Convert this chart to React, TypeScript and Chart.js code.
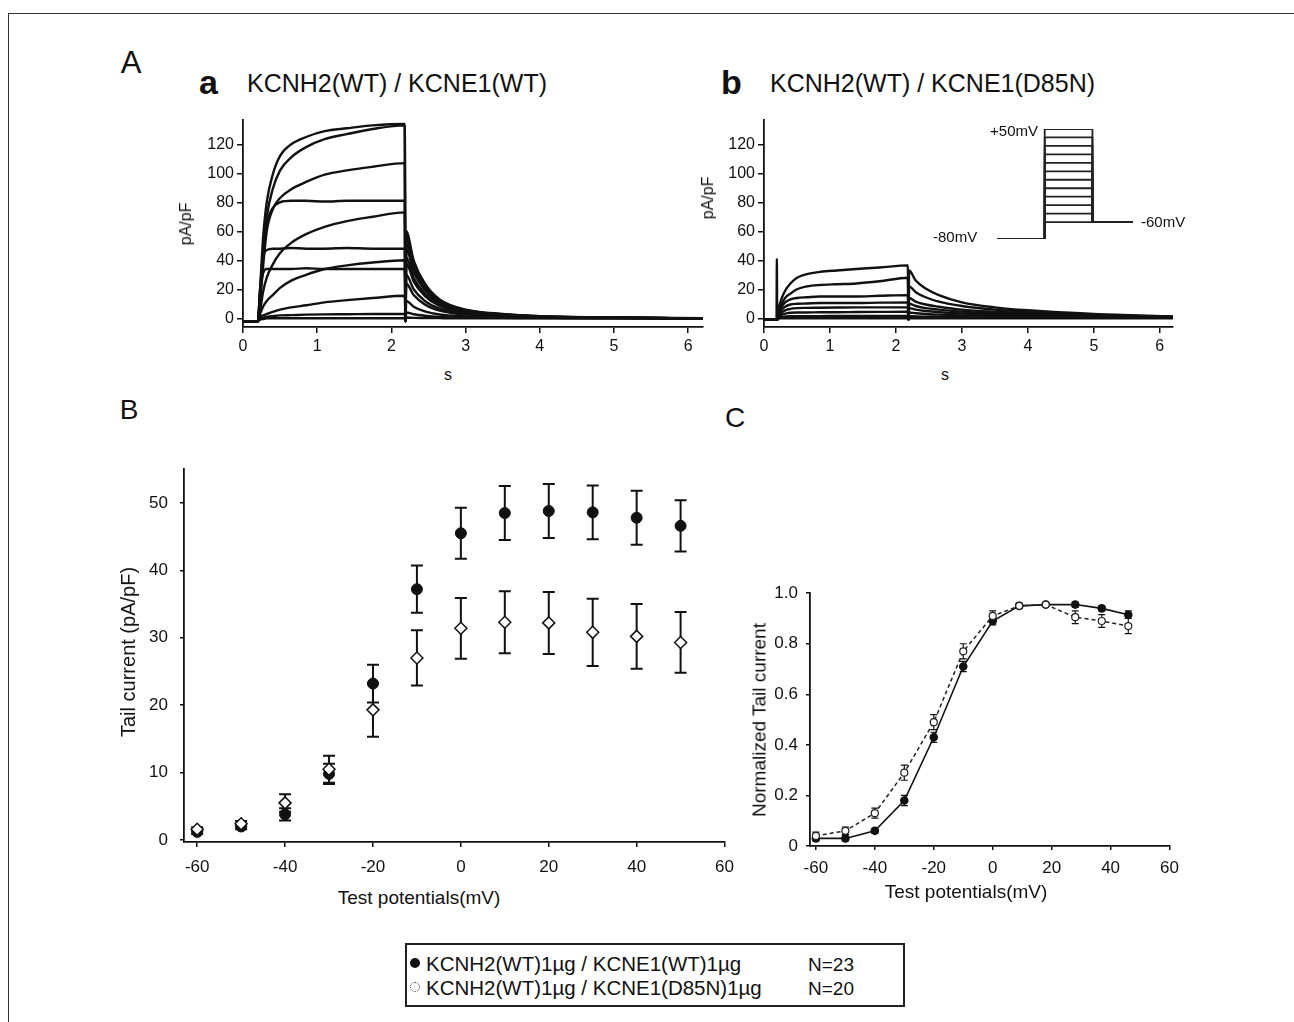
import React, { useEffect, useRef } from "react";
import { Chart, registerables } from "chart.js";
Chart.register(...registerables);

const FONT = '"Liberation Sans", Arial, Helvetica, sans-serif';
const INK = "#111";

// ---------- Panel A: current traces (pA/pF vs s) ----------
const traceTimes = [0, 0.19, 0.195, 0.2, 0.23, 0.27, 0.32, 0.4, 0.5, 0.65, 0.85, 1.1, 1.4, 1.75, 2.18, 2.19, 2.2, 2.3, 2.45, 2.65, 3.0, 3.5, 4.0, 5.0, 6.2];

// a: KCNH2(WT) / KCNE1(WT)
const wtTrace1 = [-2, -2, -2, -2, 20, 55, 80, 99, 112, 120, 125, 129, 131, 133, 134, -2, 60, 40, 24, 13, 6, 3, 1.5, 0.6, 0];
const wtTrace2 = [-2, -2, -2, -2, 15, 45, 70, 89, 102, 111, 118, 123.5, 127, 130.5, 133, -2, 56, 38, 23, 12.5, 5.8, 2.8, 1.4, 0.5, 0];
const wtTrace3 = [-2, -2, -2, -2, 10, 35, 60, 75, 83, 89, 94, 99, 102, 104.5, 107, -2, 52, 35, 21, 11.5, 5.5, 2.6, 1.3, 0.5, 0];
const wtTrace4 = [-2, -2, -2, -2, 15, 45, 65, 76, 80, 81, 81, 80.5, 81, 81, 81, -2, 48, 32, 19.5, 10.5, 5, 2.5, 1.2, 0.4, 0];
const wtTrace5 = [-2, -2, -2, -2, 5, 18, 28, 37, 45, 52, 58, 63, 67, 70, 73, -2, 42, 28, 17, 9.5, 4.5, 2.2, 1.1, 0.4, 0];
const wtTrace6 = [-2, -2, -2, -2, 20, 42, 47, 48, 48, 48.5, 48, 48, 48.5, 48, 48, -2, 38, 25.5, 15.5, 8.5, 4, 2, 1, 0.4, 0];
const wtTrace7 = [-2, -2, -2, -2, 3, 8, 12, 16, 21, 26, 30, 34, 36.5, 38.5, 40, -2, 30, 20, 12, 6.6, 3.2, 1.6, 0.8, 0.3, 0];
const wtTrace8 = [-2, -2, -2, -2, 18, 31, 34, 34, 34, 34, 34.5, 34, 34, 34, 34, -2, 24, 16, 9.6, 5.3, 2.5, 1.3, 0.6, 0.2, 0];
const wtTrace9 = [-2, -2, -2, -2, 1, 2, 3, 4.5, 6, 7.5, 9, 11, 12.5, 14, 15.5, -2, 12, 8, 4.8, 2.6, 1.3, 0.7, 0.3, 0.1, 0];
const wtTrace10 = [-2, -2, -2, -2, 0, 0.5, 1, 1.5, 2, 2.2, 2.5, 2.7, 2.8, 3, 3, -2, 4, 2.8, 1.8, 1, 0.5, 0.3, 0.1, 0, 0];
const wtTrace11 = [-2, -2, -2, -2, -1, -0.5, 0, 0, 0, 0, 0, 0, 0, 0, 0, -2, 0.5, 0.3, 0.2, 0.1, 0, 0, 0, 0, 0];

// b: KCNH2(WT) / KCNE1(D85N)
const mutTrace1 = [-1, -1, 41, 0, 8, 14, 19, 24, 28, 30.5, 32, 33, 34, 35, 36.5, -1, 33, 26, 20.5, 16, 11, 7.5, 5.5, 3, 1.3];
const mutTrace2 = [-1, -1, -1, -1, 5, 10, 14, 17, 20, 22, 23, 23.5, 24, 25.5, 28, -1, 22, 18, 14.5, 11.5, 8.5, 6, 4.5, 2.5, 1.1];
const mutTrace3 = [-1, -1, -1, -1, 4, 8, 11, 13, 14, 14.5, 15, 15, 15, 15.5, 16, -1, 14, 11.5, 9.5, 8, 6, 4.5, 3.5, 2, 0.9];
const mutTrace4 = [-1, -1, -1, -1, 3, 6, 8, 9.5, 10, 10.2, 10.5, 10.5, 10.5, 10.8, 11, -1, 10, 8.5, 7, 6, 4.6, 3.5, 2.7, 1.6, 0.7];
const mutTrace5 = [-1, -1, -1, -1, 2, 4, 5.5, 6.5, 7, 7.2, 7.3, 7.4, 7.5, 7.5, 7.5, -1, 7, 6, 5, 4.2, 3.3, 2.5, 2, 1.2, 0.5];
const mutTrace6 = [-1, -1, -1, -1, 1, 2.5, 3.2, 3.8, 4, 4, 4.2, 4.2, 4.3, 4.4, 4.5, -1, 4, 3.5, 3, 2.5, 2, 1.6, 1.2, 0.8, 0.4];
const mutTrace7 = [-1, -1, -1, -1, 0.5, 1, 1.2, 1.4, 1.5, 1.5, 1.5, 1.6, 1.6, 1.6, 1.7, -1, 1.5, 1.3, 1.1, 1, 0.8, 0.6, 0.5, 0.4, 0.3];
const mutTrace8 = [-1, -1, -1, -1, 0, 0, 0, 0, 0, 0, 0, 0, 0, 0, 0, -1, 0, 0, 0, 0, 0, 0, 0, 0, 0];

const aXTicks = [0, 1, 2, 3, 4, 5, 6];
const aYTicks = [0, 20, 40, 60, 80, 100, 120];

// Voltage protocol inset
const protocolSteps = [50, 40, 30, 20, 10, 0, -10, -20, -30, -40, -50, -60];
const holdingPotential = -80;
const tailPotential = -60;
const protocolTimes = [0, 1, 2, 2.85];

// ---------- Panel B: tail current vs test potential ----------
const testPotentials = [-60, -50, -40, -30, -20, -10, 0, 10, 20, 30, 40, 50];
const wtTail = [1.2, 2.0, 3.8, 9.8, 23.2, 37.2, 45.5, 48.5, 48.8, 48.6, 47.8, 46.6];
const wtTailSem = [0.3, 0.4, 0.9, 1.5, 2.8, 3.5, 3.8, 4.0, 4.0, 4.0, 4.0, 3.8];
const mutTail = [1.6, 2.4, 5.5, 10.5, 19.3, 27.0, 31.4, 32.3, 32.2, 30.8, 30.2, 29.3];
const mutTailSem = [0.3, 0.4, 1.3, 2.0, 4.0, 4.1, 4.5, 4.6, 4.6, 5.0, 4.8, 4.5];
const bXTicks = [-60, -40, -20, 0, 20, 40, 60];
const bYTicks = [0, 10, 20, 30, 40, 50];

// ---------- Panel C: normalized tail current ----------
const normPotentials = [-60, -50, -40, -30, -20, -10, 0, 9, 18, 28, 37, 46];
const wtNorm = [0.03, 0.03, 0.06, 0.18, 0.43, 0.71, 0.89, 0.95, 0.955, 0.955, 0.94, 0.915];
const wtNormSem = [0.01, 0.01, 0.01, 0.02, 0.02, 0.02, 0.015, 0.01, 0.005, 0.01, 0.01, 0.015];
const mutNorm = [0.04, 0.06, 0.13, 0.29, 0.49, 0.77, 0.91, 0.95, 0.955, 0.905, 0.89, 0.87];
const mutNormSem = [0.015, 0.015, 0.02, 0.03, 0.03, 0.03, 0.02, 0.01, 0.005, 0.025, 0.025, 0.03];
const cXTicks = [-60, -40, -20, 0, 20, 40, 60];
const cYTicks = [0, 0.2, 0.4, 0.6, 0.8, 1.0];

// ---------- helpers ----------
const errorBarPlugin = {
  id: "errorBars",
  beforeDatasetsDraw(chart: any) {
    const { ctx } = chart;
    const xs = chart.scales.x;
    const ys = chart.scales.y;
    chart.data.datasets.forEach((ds: any) => {
      if (!ds.errors) return;
      ctx.save();
      ctx.strokeStyle = INK;
      ctx.lineWidth = ds.errorWidth || 1.5;
      ds.data.forEach((p: any, j: number) => {
        const e = ds.errors[j];
        if (!e) return;
        const px = xs.getPixelForValue(p.x);
        const top = ys.getPixelForValue(p.y + e);
        const bot = ys.getPixelForValue(p.y - e);
        const c = ds.capWidth || 4;
        ctx.beginPath();
        ctx.moveTo(px, top);
        ctx.lineTo(px, bot);
        ctx.moveTo(px - c, top);
        ctx.lineTo(px + c, top);
        ctx.moveTo(px - c, bot);
        ctx.lineTo(px + c, bot);
        ctx.stroke();
      });
      ctx.restore();
    });
  },
};

function linAxis(o: any) {
  return {
    type: "linear",
    min: o.min,
    max: o.max,
    offset: false,
    afterBuildTicks: (s: any) => {
      s.ticks = o.ticks.map((v: number) => ({ value: v }));
    },
    afterFit: (s: any) => {
      if (s.isHorizontal()) s.height = o.size;
      else s.width = o.size;
    },
    grid: { display: true, drawOnChartArea: false, drawTicks: true, tickLength: o.tickLength, color: INK, lineWidth: 1.5 },
    border: { display: true, color: INK, width: 1.8 },
    ticks: {
      color: INK,
      font: { family: FONT, size: o.fontSize },
      padding: o.padding,
      autoSkip: false,
      maxRotation: 0,
      callback: o.fmt || ((v: number) => String(v)),
    },
  };
}

const baseOptions = {
  animation: false,
  responsive: false,
  events: [],
  layout: { padding: { top: 10, right: 14, left: 0, bottom: 0 } },
  plugins: { legend: { display: false }, tooltip: { enabled: false } },
};

function traceDatasets(traces: number[][]) {
  return traces.map((tr) => ({
    data: traceTimes.map((t, i) => ({ x: t, y: tr[i] })),
    borderColor: INK,
    borderWidth: 2.4,
    pointRadius: 0,
    cubicInterpolationMode: "monotone",
    fill: false,
  }));
}

function makeTraceConfig(traces: number[][]) {
  return {
    type: "line",
    data: { datasets: traceDatasets(traces) },
    options: {
      ...baseOptions,
      scales: {
        x: linAxis({ min: 0, max: 6.2, ticks: aXTicks, size: 35, fontSize: 16, tickLength: 6, padding: 4 }),
        y: linAxis({ min: -6, max: 137, ticks: aYTicks, size: 60, fontSize: 16, tickLength: 6, padding: 3 }),
      },
    },
  };
}

function makeProtocolConfig() {
  return {
    type: "line",
    data: {
      datasets: protocolSteps.map((v) => ({
        data: [
          { x: protocolTimes[0], y: holdingPotential },
          { x: protocolTimes[1], y: holdingPotential },
          { x: protocolTimes[1], y: v },
          { x: protocolTimes[2], y: v },
          { x: protocolTimes[2], y: tailPotential },
          { x: protocolTimes[3], y: tailPotential },
        ],
        borderColor: "#222",
        borderWidth: 1.8,
        pointRadius: 0,
        tension: 0,
      })),
    },
    options: {
      ...baseOptions,
      layout: { padding: 2 },
      scales: {
        x: { type: "linear", display: false, min: protocolTimes[0], max: protocolTimes[3] },
        y: { type: "linear", display: false, min: holdingPotential, max: protocolSteps[0] },
      },
    },
  };
}

function pts(xs: number[], ys: number[]) {
  return xs.map((x, i) => ({ x, y: ys[i] }));
}

function makeTailConfig() {
  return {
    type: "scatter",
    data: {
      datasets: [
        {
          data: pts(testPotentials, mutTail),
          errors: mutTailSem,
          capWidth: 6,
          errorWidth: 2,
          pointStyle: "rectRot",
          pointRadius: 6,
          backgroundColor: "#fff",
          borderColor: INK,
          borderWidth: 1.5,
        },
        {
          data: pts(testPotentials, wtTail),
          errors: wtTailSem,
          capWidth: 6,
          errorWidth: 2,
          pointStyle: "circle",
          pointRadius: 5.5,
          backgroundColor: INK,
          borderColor: INK,
          borderWidth: 1,
        },
      ],
    },
    options: {
      ...baseOptions,
      scales: {
        x: linAxis({ min: -63, max: 60, ticks: bXTicks, size: 40, fontSize: 17, tickLength: 5, padding: 10 }),
        y: linAxis({ min: -0.3, max: 55, ticks: bYTicks, size: 60, fontSize: 17, tickLength: 4, padding: 12 }),
      },
    },
    plugins: [errorBarPlugin],
  };
}

function makeNormConfig() {
  return {
    type: "line",
    data: {
      datasets: [
        {
          data: pts(normPotentials, mutNorm),
          errors: mutNormSem,
          capWidth: 3.5,
          errorWidth: 1.2,
          borderColor: "#222",
          borderWidth: 1.5,
          borderDash: [4, 3],
          pointStyle: "circle",
          pointRadius: 3.5,
          pointBackgroundColor: "#fff",
          pointBorderColor: "#222",
          pointBorderWidth: 1.2,
          tension: 0,
        },
        {
          data: pts(normPotentials, wtNorm),
          errors: wtNormSem,
          capWidth: 3.5,
          errorWidth: 1.2,
          borderColor: INK,
          borderWidth: 1.6,
          pointStyle: "circle",
          pointRadius: 3.5,
          pointBackgroundColor: INK,
          pointBorderColor: INK,
          tension: 0,
        },
      ],
    },
    options: {
      ...baseOptions,
      scales: {
        x: linAxis({ min: -62, max: 60, ticks: cXTicks, size: 40, fontSize: 17, tickLength: 4, padding: 8 }),
        y: linAxis({
          min: 0,
          max: 1,
          ticks: cYTicks,
          size: 60,
          fontSize: 17,
          tickLength: 4,
          padding: 8,
          fmt: (v: number) => (v === 0 ? "0" : v.toFixed(1)),
        }),
      },
    },
    plugins: [errorBarPlugin],
  };
}

function ChartCanvas({ x, y, w, h, make }: any) {
  const ref = useRef<HTMLCanvasElement | null>(null);
  useEffect(() => {
    const chart = new Chart(ref.current as HTMLCanvasElement, make() as any);
    return () => chart.destroy();
  }, []);
  return (
    <canvas
      ref={ref}
      width={w}
      height={h}
      style={{ position: "absolute", left: x, top: y, width: w, height: h }}
    />
  );
}

function Text({ x, y, size, children, anchor = "center", bold = false }: any) {
  const tx = anchor === "left" ? "0" : anchor === "right" ? "-100%" : "-50%";
  return (
    <div
      style={{
        position: "absolute",
        left: x,
        top: y,
        transform: `translate(${tx}, -50%)`,
        fontFamily: FONT,
        fontSize: size,
        fontWeight: bold ? "bold" : "normal",
        color: INK,
        whiteSpace: "nowrap",
        lineHeight: 1,
      }}
    >
      {children}
    </div>
  );
}

function RotText({ x, y, size, children }: any) {
  return (
    <div
      style={{
        position: "absolute",
        left: x,
        top: y,
        transform: "translate(-50%, -50%) rotate(-90deg)",
        fontFamily: FONT,
        fontSize: size,
        color: INK,
        whiteSpace: "nowrap",
        lineHeight: 1,
      }}
    >
      {children}
    </div>
  );
}

export default function App() {
  const wtTraces = [wtTrace1, wtTrace2, wtTrace3, wtTrace4, wtTrace5, wtTrace6, wtTrace7, wtTrace8, wtTrace9, wtTrace10, wtTrace11];
  const mutTraces = [mutTrace1, mutTrace2, mutTrace3, mutTrace4, mutTrace5, mutTrace6, mutTrace7, mutTrace8];
  return (
    <div style={{ position: "fixed", left: 0, top: 0, width: 1294, height: 1022, background: "#fff", overflow: "hidden" }}>
      <div style={{ position: "absolute", left: 8, top: 13, width: 1300, height: 1020, borderTop: "1.5px solid #333", borderLeft: "1.5px solid #333" }} />

      {/* Panel A */}
      <Text x={131} y={62} size={31}>A</Text>
      <Text x={199} y={82} size={34} anchor="left" bold>a</Text>
      <Text x={247} y={83} size={25} anchor="left">KCNH2(WT) / KCNE1(WT)</Text>
      <Text x={721} y={82} size={34} anchor="left" bold>b</Text>
      <Text x={770} y={83} size={25} anchor="left">KCNH2(WT) / KCNE1(D85N)</Text>

      <ChartCanvas x={183} y={107} w={534} h={255} make={() => makeTraceConfig(wtTraces)} />
      <ChartCanvas x={704} y={107} w={483} h={255} make={() => makeTraceConfig(mutTraces)} />
      <ChartCanvas x={995} y={127} w={140} h={114} make={makeProtocolConfig} />

      <RotText x={186} y={224} size={16}>pA/pF</RotText>
      <Text x={448} y={375} size={16}>s</Text>
      <RotText x={708} y={198} size={16}>pA/pF</RotText>
      <Text x={945} y={375} size={16}>s</Text>

      <Text x={1038} y={130} size={15} anchor="right">+50mV</Text>
      <Text x={933} y={236} size={15} anchor="left">-80mV</Text>
      <Text x={1141} y={221} size={15} anchor="left">-60mV</Text>

      {/* Panel B */}
      <Text x={129} y={410} size={28}>B</Text>
      <ChartCanvas x={124} y={447} w={620} h={435} make={makeTailConfig} />
      <RotText x={128} y={652} size={20}>Tail current (pA/pF)</RotText>
      <Text x={419} y={897} size={19}>Test potentials(mV)</Text>

      {/* Panel C */}
      <Text x={735} y={418} size={28}>C</Text>
      <ChartCanvas x={750} y={575} w={437} h={311} make={makeNormConfig} />
      <RotText x={759} y={720} size={19}>Normalized Tail current</RotText>
      <Text x={966} y={891} size={19}>Test potentials(mV)</Text>

      {/* Legend */}
      <div style={{ position: "absolute", left: 405, top: 943, width: 496, height: 60, border: "2px solid #222" }} />
      <div style={{ position: "absolute", left: 410, top: 958, width: 10, height: 10, borderRadius: "50%", background: INK }} />
      <div style={{ position: "absolute", left: 410, top: 982, width: 8, height: 8, borderRadius: "50%", border: "1.5px dotted #333" }} />
      <Text x={426} y={964} size={20.5} anchor="left">KCNH2(WT)1µg / KCNE1(WT)1µg</Text>
      <Text x={426} y={988} size={20.5} anchor="left">KCNH2(WT)1µg / KCNE1(D85N)1µg</Text>
      <Text x={808} y={964} size={19} anchor="left">N=23</Text>
      <Text x={808} y={988} size={19} anchor="left">N=20</Text>
    </div>
  );
}
